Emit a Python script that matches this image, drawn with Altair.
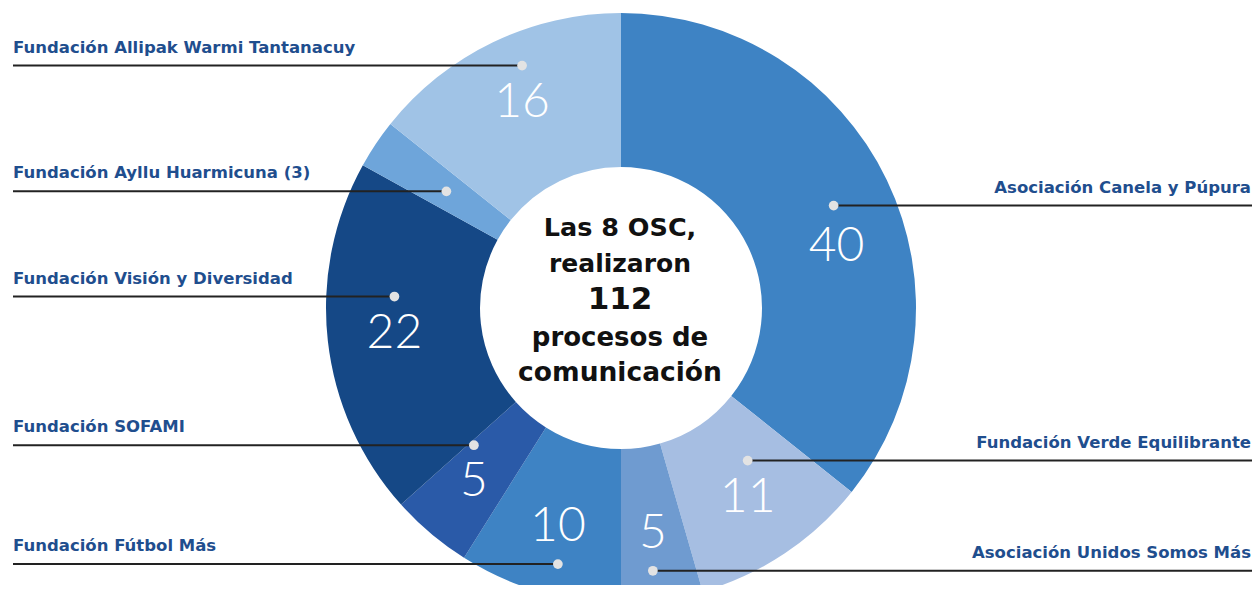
import math
import altair as alt
import numpy as np
import pandas as pd

# ---- data ----
names = [
    "Asociación Canela y Púpura",
    "Fundación Verde Equilibrante",
    "Asociación Unidos Somos Más",
    "Fundación Fútbol Más",
    "Fundación SOFAMI",
    "Fundación Visión y Diversidad",
    "Fundación Ayllu Huarmicuna (3)",
    "Fundación Allipak Warmi Tantanacuy",
]
values = [40, 11, 5, 10, 5, 22, 3, 16]
colors = ["#3E83C4", "#A6BEE2", "#6F9BD0", "#3E83C4",
          "#2A5AA8", "#154886", "#6EA5DA", "#A0C3E6"]
center_lines = ["Las 8 OSC,", "realizaron", "112", "procesos de", "comunicación"]

# ---- layout ----
W, H = 1244, 577
CX, CY = 613, 300
R_OUT, R_IN = 295, 141
R_LABEL, R_DOT_SMALL, R_DOT_BIG = 228, 210, 236
DOT_OFF = 37
LABEL_COLOR = "#1F4E8E"

total = sum(values)
vals = np.array(values, dtype=float)
start = np.cumsum(vals) - vals
mid = (start + vals / 2) / total * 2 * math.pi
show = vals >= 4

tx, ty, dot_x, dot_y = [], [], [], []
for i in range(len(values)):
    s, c = math.sin(mid[i]), math.cos(mid[i])
    if not show[i]:
        # small slice: only a marker dot
        dx_, dy_ = CX + R_DOT_SMALL * s, CY - R_DOT_SMALL * c
        tx_, ty_ = dx_, dy_
    elif vals[i] >= 30:
        # large slice: dot at mid-angle, value below it
        dx_, dy_ = CX + R_DOT_BIG * s, CY - R_DOT_BIG * c
        tx_, ty_ = dx_ + 3, dy_ + 41
    else:
        tx_, ty_ = CX + R_LABEL * s, CY - R_LABEL * c
        dx_ = tx_
        dy_ = ty_ + DOT_OFF if ty_ > CY + 200 else ty_ - DOT_OFF
    tx.append(tx_); ty.append(ty_); dot_x.append(dx_); dot_y.append(dy_)

side = ["left" if x < CX else "right" for x in dot_x]
df = pd.DataFrame({
    "idx": list(range(len(values))),
    "name": names,
    "value": values,
    "vlabel": [str(v) for v in values],
    "show": show,
    "tx": tx, "ty": ty,
    "dx": dot_x, "dy": dot_y,
    "side": side,
})
df["lx1"] = [5 if s == "left" else x for s, x in zip(side, dot_x)]
df["lx2"] = [x if s == "left" else W for s, x in zip(side, dot_x)]
df["ly"] = df["dy"] - 13

base = alt.Chart(df)

arcs = base.mark_arc(outerRadius=R_OUT, innerRadius=R_IN).encode(
    theta=alt.Theta("value:Q", stack=True),
    order=alt.Order("idx:Q"),
    color=alt.Color("name:N", scale=alt.Scale(domain=names, range=colors), legend=None),
    x=alt.value(CX),
    y=alt.value(CY),
)

rules = base.mark_rule(color="#222222", strokeWidth=2).encode(
    x=alt.X("lx1:Q", scale=None, axis=None),
    x2="lx2:Q",
    y=alt.Y("dy:Q", scale=None, axis=None),
)

dots = base.mark_circle(size=95, color="#E3E3E3", opacity=1).encode(
    x=alt.X("dx:Q", scale=None, axis=None),
    y=alt.Y("dy:Q", scale=None, axis=None),
)

vtext = base.transform_filter("datum.show").mark_text(
    font="Lato", fontWeight=300, fontSize=48, color="white",
    align="center", baseline="middle",
).encode(
    x=alt.X("tx:Q", scale=None, axis=None),
    y=alt.Y("ty:Q", scale=None, axis=None),
    text="vlabel:N",
)

LAB_FS = 16.5
left_lab = base.transform_filter("datum.side == 'left'").mark_text(
    font="DejaVu Sans", fontWeight="bold", fontSize=LAB_FS, color=LABEL_COLOR,
    align="left", baseline="alphabetic",
).encode(
    x=alt.X("lx1:Q", scale=None, axis=None),
    y=alt.Y("ly:Q", scale=None, axis=None),
    text="name:N",
)

right_lab = base.transform_filter("datum.side == 'right'").mark_text(
    font="DejaVu Sans", fontWeight="bold", fontSize=LAB_FS, color=LABEL_COLOR,
    align="right", baseline="alphabetic",
).encode(
    x=alt.value(W - 1),
    y=alt.Y("ly:Q", scale=None, axis=None),
    text="name:N",
)

center_sizes = [25.5, 25, 31, 26, 26.5]
center_y = [220, 256, 292, 330, 365]
center_layers = []
for line, fs, yy in zip(center_lines, center_sizes, center_y):
    center_layers.append(
        alt.Chart(pd.DataFrame({"t": [line]})).mark_text(
            font="DejaVu Sans", fontWeight="bold", fontSize=fs, color="#111111",
            align="center", baseline="middle",
        ).encode(x=alt.value(CX - 1), y=alt.value(yy), text="t:N")
    )

chart = alt.layer(arcs, rules, dots, vtext, left_lab, right_lab, *center_layers).properties(
    width=W, height=H, padding=0, autosize=alt.AutoSizeParams(type="none"),
).configure_view(stroke=None)

chart.save("out.html", embed_options={"renderer": "svg", "actions": False})
